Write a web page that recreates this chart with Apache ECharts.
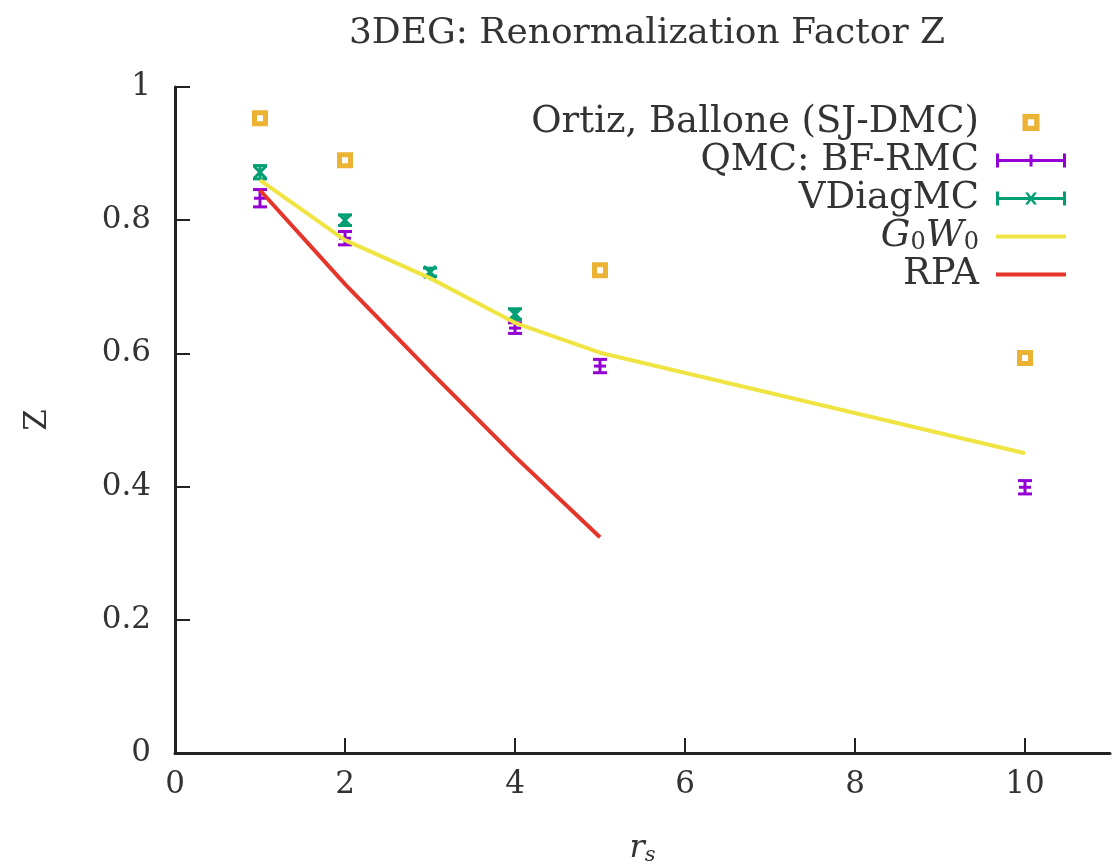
<!DOCTYPE html>
<html>
<head>
<meta charset="utf-8">
<script src="https://cdn.jsdelivr.net/npm/echarts@6/dist/echarts.min.js"></script>
<style>
  html, body { margin: 0; padding: 0; background: #fff; }
  #chart { width: 1119px; height: 864px; }
</style>
</head>
<body>
<div id="chart"></div>
<script>
// values
const ortizX = [1, 2, 5, 10];
const ortizZ = [0.953, 0.890, 0.725, 0.593];

const qmcX = [1, 2, 4, 5, 10];
const qmcZ = [0.833, 0.773, 0.638, 0.581, 0.399];
const qmcErr = [0.013, 0.01, 0.008, 0.01, 0.01];

const vdmcX = [1, 2, 3, 4];
const vdmcZ = [0.872, 0.800, 0.722, 0.659];
const vdmcErr = [0.01, 0.008, 0.006, 0.008];

const g0w0X = [1, 2, 3, 4, 5, 10];
const g0w0Z = [0.860, 0.770, 0.713, 0.646, 0.601, 0.450];

const rpaX = [1, 2, 3, 4, 5];
const rpaZ = [0.845, 0.704, 0.573, 0.445, 0.324];

const xTicks = [0, 2, 4, 6, 8, 10];

const serif = 'DejaVu Serif';
const purple = '#9400d3';
const green = '#009e73';
const orange = '#e69f00';
const yellow = '#f0e442';
const red = '#e6352a';

const hollowSquare = 'path://M0,0h16v16h-16z M5,5v6h6v-6z';

const zip = (xs, ys, es) => xs.map((x, i) => es ? [x, ys[i], es[i]] : [x, ys[i]]);

// error bar with caps plus a small point mark ('plus' or 'cross')
const errorBarRenderer = (color, mark) => (params, api) => {
  const x = api.value(0), y = api.value(1), e = api.value(2);
  const c = api.coord([x, y]);
  const lo = api.coord([x, y - e]);
  const hi = api.coord([x, y + e]);
  const w = 7;
  const style = { stroke: color, lineWidth: 3 };
  const children = [
    { type: 'line', shape: { x1: c[0], y1: lo[1], x2: c[0], y2: hi[1] }, style },
    { type: 'line', shape: { x1: c[0] - w, y1: lo[1], x2: c[0] + w, y2: lo[1] }, style },
    { type: 'line', shape: { x1: c[0] - w, y1: hi[1], x2: c[0] + w, y2: hi[1] }, style }
  ];
  if (mark === 'plus') {
    children.push({ type: 'line', shape: { x1: c[0] - 6, y1: c[1], x2: c[0] + 6, y2: c[1] }, style });
  } else {
    children.push({ type: 'line', shape: { x1: c[0] - 6, y1: c[1] - 6, x2: c[0] + 6, y2: c[1] + 6 }, style });
    children.push({ type: 'line', shape: { x1: c[0] - 6, y1: c[1] + 6, x2: c[0] + 6, y2: c[1] - 6 }, style });
  }
  return { type: 'group', children };
};

const chart = echarts.init(document.getElementById('chart'));

const option = {
  animation: false,
  backgroundColor: '#fff',
  title: {
    text: '3DEG: Renormalization Factor Z',
    left: 642,
    top: 11,
    textAlign: 'center',
    textStyle: { fontFamily: serif, fontWeight: 'normal', fontSize: 36, color: '#333' }
  },
  legend: {
    orient: 'vertical',
    right: 48,
    top: 99,
    align: 'right',
    itemWidth: 70,
    itemHeight: 17,
    itemGap: 1,
    selectedMode: false,
    itemStyle: { borderWidth: 0 },
    textStyle: {
      fontFamily: serif, fontSize: 37, color: '#333', lineHeight: 30,
      padding: [0, 12, 0, 0],
      rich: {
        i: { fontFamily: serif, fontStyle: 'italic', fontSize: 37, color: '#333' },
        sub: { fontFamily: serif, fontSize: 24, color: '#333', padding: [12, 0, 0, 0] }
      }
    },
    formatter: (name) => name === 'G0W0' ? '{i|G}{sub|0}{i|W}{sub|0}' : name,
    data: [
      { name: 'Ortiz, Ballone (SJ-DMC)', icon: hollowSquare },
      { name: 'QMC: BF-RMC', icon: 'path://M0,5.5h70v3h-70z M0,0h3v14h-3z M67,0h3v14h-3z M33.5,1h3v12h-3z' },
      { name: 'VDiagMC', icon: 'path://M0,5.5h70v3h-70z M0,0h3v14h-3z M67,0h3v14h-3z M29,1L32,1L41,13L38,13z M38,1L41,1L32,13L29,13z' },
      { name: 'G0W0', icon: 'path://M0,5h70v4h-70z' },
      { name: 'RPA', icon: 'path://M0,5h70v4h-70z' }
    ]
  },
  grid: { left: 175, right: 9, top: 87, bottom: 111, outerBoundsMode: 'none' },
  xAxis: {
    type: 'value',
    min: 0,
    max: 11,
    name: '{i|r}{sub|s}',
    nameLocation: 'middle',
    nameGap: 78,
    nameTextStyle: {
      rich: {
        i: { fontFamily: serif, fontStyle: 'italic', fontSize: 32, color: '#333' },
        sub: { fontFamily: serif, fontStyle: 'italic', fontSize: 21, color: '#333', padding: [14, 0, 0, 0] }
      }
    },
    splitLine: { show: false },
    axisLine: { lineStyle: { color: '#222', width: 3 } },
    axisTick: { inside: true, length: 15, lineStyle: { color: '#222', width: 2 }, customValues: xTicks },
    axisLabel: { fontFamily: serif, fontSize: 31, color: '#333', margin: 16, customValues: xTicks }
  },
  yAxis: {
    type: 'value',
    min: 0,
    max: 1,
    interval: 0.2,
    name: 'Z',
    nameLocation: 'middle',
    nameGap: 122,
    nameTextStyle: { fontFamily: serif, fontSize: 31, color: '#333' },
    splitLine: { show: false },
    axisLine: { lineStyle: { color: '#222', width: 3 } },
    axisTick: { inside: true, length: 15, lineStyle: { color: '#222', width: 2 } },
    axisLabel: { fontFamily: serif, fontSize: 31, color: '#333', margin: 24 }
  },
  series: [
    {
      name: 'Ortiz, Ballone (SJ-DMC)',
      type: 'scatter',
      symbol: hollowSquare,
      symbolSize: 16,
      color: orange,
      itemStyle: { color: orange, borderWidth: 0 },
      data: zip(ortizX, ortizZ),
      z: 3
    },
    {
      name: 'QMC: BF-RMC',
      type: 'custom',
      color: purple,
      renderItem: errorBarRenderer(purple, 'plus'),
      encode: { x: 0, y: 1 },
      data: zip(qmcX, qmcZ, qmcErr),
      z: 4
    },
    {
      name: 'VDiagMC',
      type: 'custom',
      color: green,
      renderItem: errorBarRenderer(green, 'cross'),
      encode: { x: 0, y: 1 },
      data: zip(vdmcX, vdmcZ, vdmcErr),
      z: 4
    },
    {
      name: 'G0W0',
      type: 'line',
      color: yellow,
      showSymbol: false,
      lineStyle: { color: yellow, width: 4 },
      data: zip(g0w0X, g0w0Z),
      z: 5
    },
    {
      name: 'RPA',
      type: 'line',
      color: red,
      showSymbol: false,
      lineStyle: { color: red, width: 4 },
      data: zip(rpaX, rpaZ),
      z: 5
    }
  ]
};

chart.setOption(option);
</script>
</body>
</html>
